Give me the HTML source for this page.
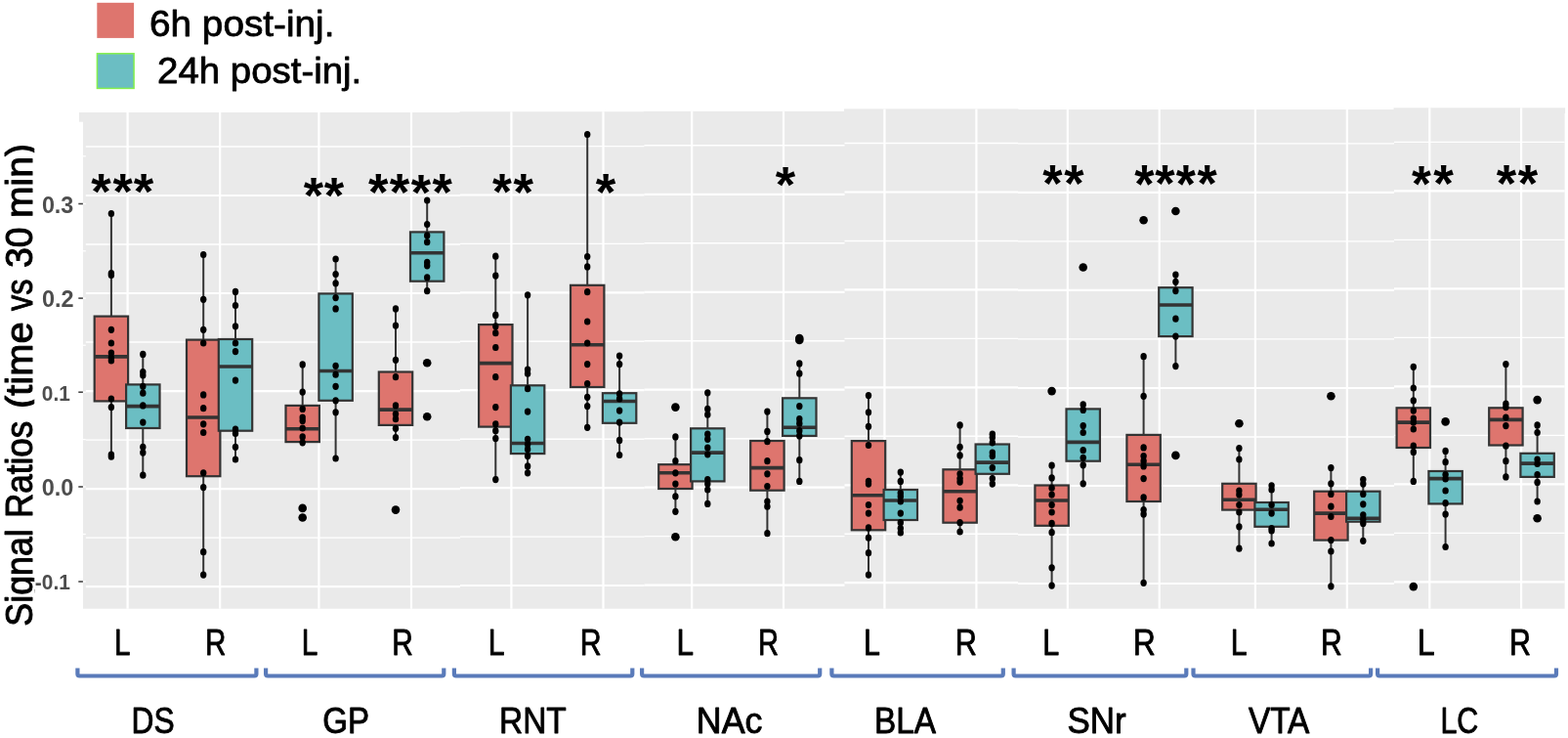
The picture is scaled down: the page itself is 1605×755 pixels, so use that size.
<!DOCTYPE html><html><head><meta charset="utf-8"><style>html,body{margin:0;padding:0;background:#fff;overflow:hidden}svg{display:block}</style></head><body>
<svg width="1605" height="755" viewBox="0 0 1605 755">
<rect width="1605" height="755" fill="#fff"/>
<rect x="85" y="115" width="1516.6" height="507.7" fill="#EAEAEA"/>
<rect x="470.5" y="114.2" width="189.5" height="1.8" fill="#EAEAEA"/>
<rect x="659.0" y="113.8" width="206.0" height="2.2" fill="#EAEAEA"/>
<rect x="864.0" y="111.4" width="178.5" height="4.6" fill="#EAEAEA"/>
<rect x="1041.5" y="112.0" width="386.0" height="4.0" fill="#EAEAEA"/>
<rect x="1426.5" y="110.3" width="175.6" height="5.7" fill="#EAEAEA"/>
<rect x="81" y="115" width="5" height="9.7" fill="#EAEAEA"/>
<line x1="85" x2="87.8" y1="159.8" y2="159.8" stroke="#fff" stroke-width="1.3"/>
<line x1="85" x2="87.8" y1="208.5" y2="208.5" stroke="#fff" stroke-width="1.3"/>
<line x1="85" x2="87.8" y1="256.8" y2="256.8" stroke="#fff" stroke-width="1.3"/>
<line x1="85" x2="87.8" y1="305.1" y2="305.1" stroke="#fff" stroke-width="1.3"/>
<line x1="85" x2="87.8" y1="353.2" y2="353.2" stroke="#fff" stroke-width="1.3"/>
<line x1="85" x2="87.8" y1="401.2" y2="401.2" stroke="#fff" stroke-width="1.3"/>
<line x1="85" x2="87.8" y1="449.6" y2="449.6" stroke="#fff" stroke-width="1.3"/>
<line x1="85" x2="87.8" y1="498.0" y2="498.0" stroke="#fff" stroke-width="1.3"/>
<line x1="85" x2="87.8" y1="546.5" y2="546.5" stroke="#fff" stroke-width="1.3"/>
<line x1="85" x2="87.8" y1="595.0" y2="595.0" stroke="#fff" stroke-width="1.3"/>
<line x1="87.8" x2="471.0" y1="150.0" y2="150.0" stroke="#fff" stroke-width="1.4"/>
<line x1="87.8" x2="471.0" y1="200.0" y2="200.0" stroke="#fff" stroke-width="2.2"/>
<line x1="87.8" x2="471.0" y1="250.0" y2="250.0" stroke="#fff" stroke-width="1.4"/>
<line x1="87.8" x2="471.0" y1="300.0" y2="300.0" stroke="#fff" stroke-width="2.2"/>
<line x1="87.8" x2="471.0" y1="350.0" y2="350.0" stroke="#fff" stroke-width="1.4"/>
<line x1="87.8" x2="471.0" y1="400.1" y2="400.1" stroke="#fff" stroke-width="2.2"/>
<line x1="87.8" x2="471.0" y1="450.1" y2="450.1" stroke="#fff" stroke-width="1.4"/>
<line x1="87.8" x2="471.0" y1="500.1" y2="500.1" stroke="#fff" stroke-width="2.2"/>
<line x1="87.8" x2="471.0" y1="550.1" y2="550.1" stroke="#fff" stroke-width="1.4"/>
<line x1="87.8" x2="471.0" y1="600.1" y2="600.1" stroke="#fff" stroke-width="2.2"/>
<line x1="471.0" x2="659.5" y1="149.6" y2="149.6" stroke="#fff" stroke-width="1.4"/>
<line x1="471.0" x2="659.5" y1="199.5" y2="199.5" stroke="#fff" stroke-width="2.2"/>
<line x1="471.0" x2="659.5" y1="249.4" y2="249.4" stroke="#fff" stroke-width="1.4"/>
<line x1="471.0" x2="659.5" y1="299.4" y2="299.4" stroke="#fff" stroke-width="2.2"/>
<line x1="471.0" x2="659.5" y1="349.3" y2="349.3" stroke="#fff" stroke-width="1.4"/>
<line x1="471.0" x2="659.5" y1="399.2" y2="399.2" stroke="#fff" stroke-width="2.2"/>
<line x1="471.0" x2="659.5" y1="449.2" y2="449.2" stroke="#fff" stroke-width="1.4"/>
<line x1="471.0" x2="659.5" y1="499.1" y2="499.1" stroke="#fff" stroke-width="2.2"/>
<line x1="471.0" x2="659.5" y1="549.1" y2="549.1" stroke="#fff" stroke-width="1.4"/>
<line x1="471.0" x2="659.5" y1="599.0" y2="599.0" stroke="#fff" stroke-width="2.2"/>
<line x1="659.5" x2="864.5" y1="148.8" y2="148.8" stroke="#fff" stroke-width="1.4"/>
<line x1="659.5" x2="864.5" y1="198.8" y2="198.8" stroke="#fff" stroke-width="2.2"/>
<line x1="659.5" x2="864.5" y1="248.8" y2="248.8" stroke="#fff" stroke-width="1.4"/>
<line x1="659.5" x2="864.5" y1="298.8" y2="298.8" stroke="#fff" stroke-width="2.2"/>
<line x1="659.5" x2="864.5" y1="348.7" y2="348.7" stroke="#fff" stroke-width="1.4"/>
<line x1="659.5" x2="864.5" y1="398.7" y2="398.7" stroke="#fff" stroke-width="2.2"/>
<line x1="659.5" x2="864.5" y1="448.7" y2="448.7" stroke="#fff" stroke-width="1.4"/>
<line x1="659.5" x2="864.5" y1="498.7" y2="498.7" stroke="#fff" stroke-width="2.2"/>
<line x1="659.5" x2="864.5" y1="548.6" y2="548.6" stroke="#fff" stroke-width="1.4"/>
<line x1="659.5" x2="864.5" y1="598.6" y2="598.6" stroke="#fff" stroke-width="2.2"/>
<line x1="864.5" x2="1042.0" y1="146.5" y2="146.5" stroke="#fff" stroke-width="1.4"/>
<line x1="864.5" x2="1042.0" y1="196.5" y2="196.5" stroke="#fff" stroke-width="2.2"/>
<line x1="864.5" x2="1042.0" y1="246.5" y2="246.5" stroke="#fff" stroke-width="1.4"/>
<line x1="864.5" x2="1042.0" y1="296.4" y2="296.4" stroke="#fff" stroke-width="2.2"/>
<line x1="864.5" x2="1042.0" y1="346.4" y2="346.4" stroke="#fff" stroke-width="1.4"/>
<line x1="864.5" x2="1042.0" y1="396.4" y2="396.4" stroke="#fff" stroke-width="2.2"/>
<line x1="864.5" x2="1042.0" y1="446.3" y2="446.3" stroke="#fff" stroke-width="1.4"/>
<line x1="864.5" x2="1042.0" y1="496.3" y2="496.3" stroke="#fff" stroke-width="2.2"/>
<line x1="864.5" x2="1042.0" y1="546.2" y2="546.2" stroke="#fff" stroke-width="1.4"/>
<line x1="864.5" x2="1042.0" y1="596.2" y2="596.2" stroke="#fff" stroke-width="2.2"/>
<line x1="1042.0" x2="1427.0" y1="146.9" y2="146.9" stroke="#fff" stroke-width="1.4"/>
<line x1="1042.0" x2="1427.0" y1="196.9" y2="196.9" stroke="#fff" stroke-width="2.2"/>
<line x1="1042.0" x2="1427.0" y1="246.9" y2="246.9" stroke="#fff" stroke-width="1.4"/>
<line x1="1042.0" x2="1427.0" y1="296.9" y2="296.9" stroke="#fff" stroke-width="2.2"/>
<line x1="1042.0" x2="1427.0" y1="346.9" y2="346.9" stroke="#fff" stroke-width="1.4"/>
<line x1="1042.0" x2="1427.0" y1="397.0" y2="397.0" stroke="#fff" stroke-width="2.2"/>
<line x1="1042.0" x2="1427.0" y1="447.0" y2="447.0" stroke="#fff" stroke-width="1.4"/>
<line x1="1042.0" x2="1427.0" y1="497.0" y2="497.0" stroke="#fff" stroke-width="2.2"/>
<line x1="1042.0" x2="1427.0" y1="547.0" y2="547.0" stroke="#fff" stroke-width="1.4"/>
<line x1="1042.0" x2="1427.0" y1="597.0" y2="597.0" stroke="#fff" stroke-width="2.2"/>
<line x1="1427.0" x2="1601.6" y1="145.4" y2="145.4" stroke="#fff" stroke-width="1.4"/>
<line x1="1427.0" x2="1601.6" y1="195.4" y2="195.4" stroke="#fff" stroke-width="2.2"/>
<line x1="1427.0" x2="1601.6" y1="245.4" y2="245.4" stroke="#fff" stroke-width="1.4"/>
<line x1="1427.0" x2="1601.6" y1="295.4" y2="295.4" stroke="#fff" stroke-width="2.2"/>
<line x1="1427.0" x2="1601.6" y1="345.4" y2="345.4" stroke="#fff" stroke-width="1.4"/>
<line x1="1427.0" x2="1601.6" y1="395.4" y2="395.4" stroke="#fff" stroke-width="2.2"/>
<line x1="1427.0" x2="1601.6" y1="445.4" y2="445.4" stroke="#fff" stroke-width="1.4"/>
<line x1="1427.0" x2="1601.6" y1="495.4" y2="495.4" stroke="#fff" stroke-width="2.2"/>
<line x1="1427.0" x2="1601.6" y1="545.4" y2="545.4" stroke="#fff" stroke-width="1.4"/>
<line x1="1427.0" x2="1601.6" y1="595.4" y2="595.4" stroke="#fff" stroke-width="2.2"/>
<line x1="130.6" x2="130.6" y1="115.0" y2="622.7" stroke="#fff" stroke-width="2.2"/>
<line x1="225.2" x2="225.2" y1="115.0" y2="622.7" stroke="#fff" stroke-width="2.2"/>
<line x1="326.4" x2="326.4" y1="115.0" y2="622.7" stroke="#fff" stroke-width="2.2"/>
<line x1="421.0" x2="421.0" y1="115.0" y2="622.7" stroke="#fff" stroke-width="2.2"/>
<line x1="523.4" x2="523.4" y1="114.2" y2="622.7" stroke="#fff" stroke-width="2.2"/>
<line x1="617.5" x2="617.5" y1="114.2" y2="622.7" stroke="#fff" stroke-width="2.2"/>
<line x1="708.2" x2="708.2" y1="113.8" y2="622.7" stroke="#fff" stroke-width="2.2"/>
<line x1="802.0" x2="802.0" y1="113.8" y2="622.7" stroke="#fff" stroke-width="2.2"/>
<line x1="905.4" x2="905.4" y1="111.4" y2="622.7" stroke="#fff" stroke-width="2.2"/>
<line x1="999.4" x2="999.4" y1="111.4" y2="622.7" stroke="#fff" stroke-width="2.2"/>
<line x1="1092.8" x2="1092.8" y1="112.0" y2="622.7" stroke="#fff" stroke-width="2.2"/>
<line x1="1186.7" x2="1186.7" y1="112.0" y2="622.7" stroke="#fff" stroke-width="2.2"/>
<line x1="1284.9" x2="1284.9" y1="112.0" y2="622.7" stroke="#fff" stroke-width="2.2"/>
<line x1="1378.8" x2="1378.8" y1="112.0" y2="622.7" stroke="#fff" stroke-width="2.2"/>
<line x1="1463.3" x2="1463.3" y1="110.3" y2="622.7" stroke="#fff" stroke-width="2.2"/>
<line x1="1557.1" x2="1557.1" y1="110.3" y2="622.7" stroke="#fff" stroke-width="2.2"/>
<line x1="113.9" x2="113.9" y1="218.5" y2="323.6" stroke="#333333" stroke-width="2"/><line x1="113.9" x2="113.9" y1="410.4" y2="467.2" stroke="#333333" stroke-width="2"/><rect x="96.7" y="323.6" width="34.4" height="86.8" fill="#DE756E" stroke="#333333" stroke-width="2.2"/><line x1="96.7" x2="131.1" y1="364.9" y2="364.9" stroke="#333333" stroke-width="3.6"/>
<line x1="146.3" x2="146.3" y1="362.4" y2="393.4" stroke="#333333" stroke-width="2"/><line x1="146.3" x2="146.3" y1="438.0" y2="486.2" stroke="#333333" stroke-width="2"/><rect x="129.1" y="393.4" width="34.4" height="44.6" fill="#6BBEC3" stroke="#333333" stroke-width="2.2"/><line x1="129.1" x2="163.5" y1="415.59999999999997" y2="415.59999999999997" stroke="#333333" stroke-width="3.6"/>
<line x1="208.2" x2="208.2" y1="260.5" y2="347.6" stroke="#333333" stroke-width="2"/><line x1="208.2" x2="208.2" y1="487.2" y2="588.1" stroke="#333333" stroke-width="2"/><rect x="191.0" y="347.6" width="34.4" height="139.6" fill="#DE756E" stroke="#333333" stroke-width="2.2"/><line x1="191.0" x2="225.4" y1="427.0" y2="427.0" stroke="#333333" stroke-width="3.6"/>
<line x1="241.0" x2="241.0" y1="298.4" y2="347.0" stroke="#333333" stroke-width="2"/><line x1="241.0" x2="241.0" y1="440.7" y2="470.0" stroke="#333333" stroke-width="2"/><rect x="223.8" y="347.0" width="34.4" height="93.7" fill="#6BBEC3" stroke="#333333" stroke-width="2.2"/><line x1="223.8" x2="258.2" y1="375.0" y2="375.0" stroke="#333333" stroke-width="3.6"/>
<line x1="309.7" x2="309.7" y1="372.9" y2="414.9" stroke="#333333" stroke-width="2"/><line x1="309.7" x2="309.7" y1="452.1" y2="452.8" stroke="#333333" stroke-width="2"/><rect x="292.5" y="414.9" width="34.4" height="37.2" fill="#DE756E" stroke="#333333" stroke-width="2.2"/><line x1="292.5" x2="326.9" y1="438.7" y2="438.7" stroke="#333333" stroke-width="3.6"/>
<line x1="343.6" x2="343.6" y1="265.0" y2="300.4" stroke="#333333" stroke-width="2"/><line x1="343.6" x2="343.6" y1="409.8" y2="469.0" stroke="#333333" stroke-width="2"/><rect x="326.4" y="300.4" width="34.4" height="109.4" fill="#6BBEC3" stroke="#333333" stroke-width="2.2"/><line x1="326.4" x2="360.8" y1="379.5" y2="379.5" stroke="#333333" stroke-width="3.6"/>
<line x1="405.0" x2="405.0" y1="315.9" y2="380.5" stroke="#333333" stroke-width="2"/><line x1="405.0" x2="405.0" y1="434.9" y2="447.6" stroke="#333333" stroke-width="2"/><rect x="387.8" y="380.5" width="34.4" height="54.4" fill="#DE756E" stroke="#333333" stroke-width="2.2"/><line x1="387.8" x2="422.2" y1="419.09999999999997" y2="419.09999999999997" stroke="#333333" stroke-width="3.6"/>
<line x1="437.2" x2="437.2" y1="205.0" y2="237.4" stroke="#333333" stroke-width="2"/><line x1="437.2" x2="437.2" y1="287.7" y2="297.7" stroke="#333333" stroke-width="2"/><rect x="420.0" y="237.4" width="34.4" height="50.3" fill="#6BBEC3" stroke="#333333" stroke-width="2.2"/><line x1="420.0" x2="454.4" y1="258.8" y2="258.8" stroke="#333333" stroke-width="3.6"/>
<line x1="507.3" x2="507.3" y1="262.2" y2="332.1" stroke="#333333" stroke-width="2"/><line x1="507.3" x2="507.3" y1="436.6" y2="490.6" stroke="#333333" stroke-width="2"/><rect x="490.1" y="332.1" width="34.4" height="104.5" fill="#DE756E" stroke="#333333" stroke-width="2.2"/><line x1="490.1" x2="524.5" y1="371.59999999999997" y2="371.59999999999997" stroke="#333333" stroke-width="3.6"/>
<line x1="540.1" x2="540.1" y1="301.8" y2="394.3" stroke="#333333" stroke-width="2"/><line x1="540.1" x2="540.1" y1="464.1" y2="483.8" stroke="#333333" stroke-width="2"/><rect x="522.9" y="394.3" width="34.4" height="69.8" fill="#6BBEC3" stroke="#333333" stroke-width="2.2"/><line x1="522.9" x2="557.3" y1="453.5" y2="453.5" stroke="#333333" stroke-width="3.6"/>
<line x1="601.2" x2="601.2" y1="137.5" y2="291.8" stroke="#333333" stroke-width="2"/><line x1="601.2" x2="601.2" y1="396.0" y2="437.3" stroke="#333333" stroke-width="2"/><rect x="584.0" y="291.8" width="34.4" height="104.2" fill="#DE756E" stroke="#333333" stroke-width="2.2"/><line x1="584.0" x2="618.4" y1="352.8" y2="352.8" stroke="#333333" stroke-width="3.6"/>
<line x1="634.1" x2="634.1" y1="364.1" y2="402.2" stroke="#333333" stroke-width="2"/><line x1="634.1" x2="634.1" y1="432.8" y2="465.5" stroke="#333333" stroke-width="2"/><rect x="616.9" y="402.2" width="34.4" height="30.6" fill="#6BBEC3" stroke="#333333" stroke-width="2.2"/><line x1="616.9" x2="651.3" y1="410.5" y2="410.5" stroke="#333333" stroke-width="3.6"/>
<line x1="691.4" x2="691.4" y1="446.9" y2="475.2" stroke="#333333" stroke-width="2"/><line x1="691.4" x2="691.4" y1="500.0" y2="523.3" stroke="#333333" stroke-width="2"/><rect x="674.2" y="475.2" width="34.4" height="24.8" fill="#DE756E" stroke="#333333" stroke-width="2.2"/><line x1="674.2" x2="708.6" y1="483.8" y2="483.8" stroke="#333333" stroke-width="3.6"/>
<line x1="724.3" x2="724.3" y1="401.8" y2="438.3" stroke="#333333" stroke-width="2"/><line x1="724.3" x2="724.3" y1="492.4" y2="515.4" stroke="#333333" stroke-width="2"/><rect x="707.1" y="438.3" width="34.4" height="54.1" fill="#6BBEC3" stroke="#333333" stroke-width="2.2"/><line x1="707.1" x2="741.5" y1="463.09999999999997" y2="463.09999999999997" stroke="#333333" stroke-width="3.6"/>
<line x1="785.4" x2="785.4" y1="421.1" y2="451.0" stroke="#333333" stroke-width="2"/><line x1="785.4" x2="785.4" y1="501.7" y2="545.7" stroke="#333333" stroke-width="2"/><rect x="768.2" y="451.0" width="34.4" height="50.7" fill="#DE756E" stroke="#333333" stroke-width="2.2"/><line x1="768.2" x2="802.6" y1="478.59999999999997" y2="478.59999999999997" stroke="#333333" stroke-width="3.6"/>
<line x1="818.3" x2="818.3" y1="371.9" y2="407.3" stroke="#333333" stroke-width="2"/><line x1="818.3" x2="818.3" y1="445.9" y2="492.4" stroke="#333333" stroke-width="2"/><rect x="801.1" y="407.3" width="34.4" height="38.6" fill="#6BBEC3" stroke="#333333" stroke-width="2.2"/><line x1="801.1" x2="835.5" y1="437.3" y2="437.3" stroke="#333333" stroke-width="3.6"/>
<line x1="889.0" x2="889.0" y1="404.6" y2="451.1" stroke="#333333" stroke-width="2"/><line x1="889.0" x2="889.0" y1="542.3" y2="588.1" stroke="#333333" stroke-width="2"/><rect x="871.8" y="451.1" width="34.4" height="91.2" fill="#DE756E" stroke="#333333" stroke-width="2.2"/><line x1="871.8" x2="906.2" y1="506.8" y2="506.8" stroke="#333333" stroke-width="3.6"/>
<line x1="921.8" x2="921.8" y1="483.1" y2="501.0" stroke="#333333" stroke-width="2"/><line x1="921.8" x2="921.8" y1="532.0" y2="545.0" stroke="#333333" stroke-width="2"/><rect x="904.6" y="501.0" width="34.4" height="31.0" fill="#6BBEC3" stroke="#333333" stroke-width="2.2"/><line x1="904.6" x2="939.0" y1="512.0" y2="512.0" stroke="#333333" stroke-width="3.6"/>
<line x1="982.6" x2="982.6" y1="434.9" y2="480.3" stroke="#333333" stroke-width="2"/><line x1="982.6" x2="982.6" y1="534.7" y2="544.0" stroke="#333333" stroke-width="2"/><rect x="965.4" y="480.3" width="34.4" height="54.4" fill="#DE756E" stroke="#333333" stroke-width="2.2"/><line x1="965.4" x2="999.8" y1="502.7" y2="502.7" stroke="#333333" stroke-width="3.6"/>
<line x1="1015.8" x2="1015.8" y1="444.2" y2="454.5" stroke="#333333" stroke-width="2"/><line x1="1015.8" x2="1015.8" y1="484.8" y2="495.8" stroke="#333333" stroke-width="2"/><rect x="998.6" y="454.5" width="34.4" height="30.3" fill="#6BBEC3" stroke="#333333" stroke-width="2.2"/><line x1="998.6" x2="1033.0" y1="473.09999999999997" y2="473.09999999999997" stroke="#333333" stroke-width="3.6"/>
<line x1="1076.6" x2="1076.6" y1="476.2" y2="496.5" stroke="#333333" stroke-width="2"/><line x1="1076.6" x2="1076.6" y1="537.8" y2="599.1" stroke="#333333" stroke-width="2"/><rect x="1059.4" y="496.5" width="34.4" height="41.3" fill="#DE756E" stroke="#333333" stroke-width="2.2"/><line x1="1059.4" x2="1093.8" y1="512.0" y2="512.0" stroke="#333333" stroke-width="3.6"/>
<line x1="1108.7" x2="1108.7" y1="413.9" y2="418.4" stroke="#333333" stroke-width="2"/><line x1="1108.7" x2="1108.7" y1="471.7" y2="494.8" stroke="#333333" stroke-width="2"/><rect x="1091.5" y="418.4" width="34.4" height="53.3" fill="#6BBEC3" stroke="#333333" stroke-width="2.2"/><line x1="1091.5" x2="1125.9" y1="452.4" y2="452.4" stroke="#333333" stroke-width="3.6"/>
<line x1="1170.6" x2="1170.6" y1="364.7" y2="444.9" stroke="#333333" stroke-width="2"/><line x1="1170.6" x2="1170.6" y1="513.0" y2="596.3" stroke="#333333" stroke-width="2"/><rect x="1153.4" y="444.9" width="34.4" height="68.1" fill="#DE756E" stroke="#333333" stroke-width="2.2"/><line x1="1153.4" x2="1187.8" y1="475.2" y2="475.2" stroke="#333333" stroke-width="3.6"/>
<line x1="1203.4" x2="1203.4" y1="281.1" y2="294.2" stroke="#333333" stroke-width="2"/><line x1="1203.4" x2="1203.4" y1="344.1" y2="374.6" stroke="#333333" stroke-width="2"/><rect x="1186.2" y="294.2" width="34.4" height="49.9" fill="#6BBEC3" stroke="#333333" stroke-width="2.2"/><line x1="1186.2" x2="1220.6" y1="312.0" y2="312.0" stroke="#333333" stroke-width="3.6"/>
<line x1="1268.4" x2="1268.4" y1="458.6" y2="494.8" stroke="#333333" stroke-width="2"/><line x1="1268.4" x2="1268.4" y1="521.6" y2="561.2" stroke="#333333" stroke-width="2"/><rect x="1251.2" y="494.8" width="34.4" height="26.8" fill="#DE756E" stroke="#333333" stroke-width="2.2"/><line x1="1251.2" x2="1285.6" y1="511.3" y2="511.3" stroke="#333333" stroke-width="3.6"/>
<line x1="1301.6" x2="1301.6" y1="496.8" y2="514.0" stroke="#333333" stroke-width="2"/><line x1="1301.6" x2="1301.6" y1="538.8" y2="556.0" stroke="#333333" stroke-width="2"/><rect x="1284.4" y="514.0" width="34.4" height="24.8" fill="#6BBEC3" stroke="#333333" stroke-width="2.2"/><line x1="1284.4" x2="1318.8" y1="521.3000000000001" y2="521.3000000000001" stroke="#333333" stroke-width="3.6"/>
<line x1="1362.4" x2="1362.4" y1="478.6" y2="502.7" stroke="#333333" stroke-width="2"/><line x1="1362.4" x2="1362.4" y1="552.6" y2="599.8" stroke="#333333" stroke-width="2"/><rect x="1345.2" y="502.7" width="34.4" height="49.9" fill="#DE756E" stroke="#333333" stroke-width="2.2"/><line x1="1345.2" x2="1379.6" y1="525.1" y2="525.1" stroke="#333333" stroke-width="3.6"/>
<line x1="1395.3" x2="1395.3" y1="490.6" y2="502.7" stroke="#333333" stroke-width="2"/><line x1="1395.3" x2="1395.3" y1="533.7" y2="553.3" stroke="#333333" stroke-width="2"/><rect x="1378.1" y="502.7" width="34.4" height="31.0" fill="#6BBEC3" stroke="#333333" stroke-width="2.2"/><line x1="1378.1" x2="1412.5" y1="530.2" y2="530.2" stroke="#333333" stroke-width="3.6"/>
<line x1="1446.8" x2="1446.8" y1="375.3" y2="417.3" stroke="#333333" stroke-width="2"/><line x1="1446.8" x2="1446.8" y1="458.0" y2="492.4" stroke="#333333" stroke-width="2"/><rect x="1429.6" y="417.3" width="34.4" height="40.7" fill="#DE756E" stroke="#333333" stroke-width="2.2"/><line x1="1429.6" x2="1464.0" y1="432.09999999999997" y2="432.09999999999997" stroke="#333333" stroke-width="3.6"/>
<line x1="1479.6" x2="1479.6" y1="461.4" y2="482.0" stroke="#333333" stroke-width="2"/><line x1="1479.6" x2="1479.6" y1="515.4" y2="559.5" stroke="#333333" stroke-width="2"/><rect x="1462.4" y="482.0" width="34.4" height="33.4" fill="#6BBEC3" stroke="#333333" stroke-width="2.2"/><line x1="1462.4" x2="1496.8" y1="489.59999999999997" y2="489.59999999999997" stroke="#333333" stroke-width="3.6"/>
<line x1="1541.4" x2="1541.4" y1="372.6" y2="417.3" stroke="#333333" stroke-width="2"/><line x1="1541.4" x2="1541.4" y1="455.5" y2="487.9" stroke="#333333" stroke-width="2"/><rect x="1524.2" y="417.3" width="34.4" height="38.2" fill="#DE756E" stroke="#333333" stroke-width="2.2"/><line x1="1524.2" x2="1558.6" y1="429.4" y2="429.4" stroke="#333333" stroke-width="3.6"/>
<line x1="1573.6" x2="1573.6" y1="434.9" y2="463.8" stroke="#333333" stroke-width="2"/><line x1="1573.6" x2="1573.6" y1="487.9" y2="513.0" stroke="#333333" stroke-width="2"/><rect x="1556.4" y="463.8" width="34.4" height="24.1" fill="#6BBEC3" stroke="#333333" stroke-width="2.2"/><line x1="1556.4" x2="1590.8" y1="474.09999999999997" y2="474.09999999999997" stroke="#333333" stroke-width="3.6"/>
<ellipse cx="113.90" cy="218.5" rx="3.2" ry="3.6"/>
<ellipse cx="113.90" cy="279.5" rx="3.2" ry="3.6"/>
<ellipse cx="113.90" cy="281.5" rx="3.2" ry="3.6"/>
<ellipse cx="113.90" cy="337.3" rx="3.2" ry="3.6"/>
<ellipse cx="113.90" cy="351" rx="3.2" ry="3.6"/>
<ellipse cx="113.90" cy="361" rx="3.2" ry="3.6"/>
<ellipse cx="113.90" cy="366" rx="3.2" ry="3.6"/>
<ellipse cx="113.90" cy="369" rx="3.2" ry="3.6"/>
<ellipse cx="113.90" cy="408" rx="3.2" ry="3.6"/>
<ellipse cx="113.90" cy="416.6" rx="3.2" ry="3.6"/>
<ellipse cx="113.90" cy="465" rx="3.2" ry="3.6"/>
<ellipse cx="113.90" cy="467.2" rx="3.2" ry="3.6"/>
<ellipse cx="146.30" cy="362.4" rx="3.2" ry="3.6"/>
<ellipse cx="146.30" cy="380.5" rx="3.2" ry="3.6"/>
<ellipse cx="146.30" cy="384" rx="3.2" ry="3.6"/>
<ellipse cx="146.30" cy="395.3" rx="3.2" ry="3.6"/>
<ellipse cx="146.30" cy="402.2" rx="3.2" ry="3.6"/>
<ellipse cx="146.30" cy="414.9" rx="3.2" ry="3.6"/>
<ellipse cx="146.30" cy="432.1" rx="3.2" ry="3.6"/>
<ellipse cx="146.30" cy="457.3" rx="3.2" ry="3.6"/>
<ellipse cx="146.30" cy="463.1" rx="3.2" ry="3.6"/>
<ellipse cx="146.30" cy="486.2" rx="3.2" ry="3.6"/>
<ellipse cx="208.20" cy="260.5" rx="3.2" ry="3.6"/>
<ellipse cx="208.20" cy="306.3" rx="3.2" ry="3.6"/>
<ellipse cx="208.20" cy="337.3" rx="3.2" ry="3.6"/>
<ellipse cx="208.20" cy="351" rx="3.2" ry="3.6"/>
<ellipse cx="208.20" cy="403.9" rx="3.2" ry="3.6"/>
<ellipse cx="208.20" cy="417.7" rx="3.2" ry="3.6"/>
<ellipse cx="208.20" cy="433.8" rx="3.2" ry="3.6"/>
<ellipse cx="208.20" cy="442.5" rx="3.2" ry="3.6"/>
<ellipse cx="208.20" cy="483.8" rx="3.2" ry="3.6"/>
<ellipse cx="208.20" cy="498.6" rx="3.2" ry="3.6"/>
<ellipse cx="208.20" cy="564.7" rx="3.2" ry="3.6"/>
<ellipse cx="208.20" cy="588.1" rx="3.2" ry="3.6"/>
<ellipse cx="241.00" cy="298.4" rx="3.2" ry="3.6"/>
<ellipse cx="241.00" cy="312.5" rx="3.2" ry="3.6"/>
<ellipse cx="241.00" cy="333.8" rx="3.2" ry="3.6"/>
<ellipse cx="241.00" cy="351" rx="3.2" ry="3.6"/>
<ellipse cx="241.00" cy="359.6" rx="3.2" ry="3.6"/>
<ellipse cx="241.00" cy="389.1" rx="3.2" ry="3.6"/>
<ellipse cx="241.00" cy="439" rx="3.2" ry="3.6"/>
<ellipse cx="241.00" cy="443.5" rx="3.2" ry="3.6"/>
<ellipse cx="241.00" cy="457.3" rx="3.2" ry="3.6"/>
<ellipse cx="241.00" cy="470" rx="3.2" ry="3.6"/>
<ellipse cx="309.70" cy="372.9" rx="3.2" ry="3.6"/>
<ellipse cx="309.70" cy="401.1" rx="3.2" ry="3.6"/>
<ellipse cx="309.70" cy="418.4" rx="3.2" ry="3.6"/>
<ellipse cx="309.70" cy="427" rx="3.2" ry="3.6"/>
<ellipse cx="309.70" cy="430.4" rx="3.2" ry="3.6"/>
<ellipse cx="309.70" cy="438" rx="3.2" ry="3.6"/>
<ellipse cx="309.70" cy="446.9" rx="3.2" ry="3.6"/>
<ellipse cx="309.70" cy="452.8" rx="3.2" ry="3.6"/>
<circle cx="309.70" cy="519.9" r="4.3"/>
<circle cx="309.70" cy="529.5" r="4.3"/>
<ellipse cx="343.60" cy="265" rx="3.2" ry="3.6"/>
<ellipse cx="343.60" cy="280.5" rx="3.2" ry="3.6"/>
<ellipse cx="343.60" cy="289.8" rx="3.2" ry="3.6"/>
<ellipse cx="343.60" cy="304.6" rx="3.2" ry="3.6"/>
<ellipse cx="343.60" cy="315.9" rx="3.2" ry="3.6"/>
<ellipse cx="343.60" cy="374.3" rx="3.2" ry="3.6"/>
<ellipse cx="343.60" cy="383.2" rx="3.2" ry="3.6"/>
<ellipse cx="343.60" cy="395.3" rx="3.2" ry="3.6"/>
<ellipse cx="343.60" cy="409.8" rx="3.2" ry="3.6"/>
<ellipse cx="343.60" cy="421.8" rx="3.2" ry="3.6"/>
<ellipse cx="343.60" cy="469" rx="3.2" ry="3.6"/>
<ellipse cx="405.00" cy="315.9" rx="3.2" ry="3.6"/>
<ellipse cx="405.00" cy="333.1" rx="3.2" ry="3.6"/>
<ellipse cx="405.00" cy="368.3" rx="3.2" ry="3.6"/>
<ellipse cx="405.00" cy="385.7" rx="3.2" ry="3.6"/>
<ellipse cx="405.00" cy="414.9" rx="3.2" ry="3.6"/>
<ellipse cx="405.00" cy="423.5" rx="3.2" ry="3.6"/>
<ellipse cx="405.00" cy="428.7" rx="3.2" ry="3.6"/>
<ellipse cx="405.00" cy="438.3" rx="3.2" ry="3.6"/>
<ellipse cx="405.00" cy="447.6" rx="3.2" ry="3.6"/>
<circle cx="405.00" cy="521.6" r="4.3"/>
<ellipse cx="437.20" cy="205" rx="3.2" ry="3.6"/>
<ellipse cx="437.20" cy="229.5" rx="3.2" ry="3.6"/>
<ellipse cx="437.20" cy="240.9" rx="3.2" ry="3.6"/>
<ellipse cx="437.20" cy="247.7" rx="3.2" ry="3.6"/>
<ellipse cx="437.20" cy="268.4" rx="3.2" ry="3.6"/>
<ellipse cx="437.20" cy="271.8" rx="3.2" ry="3.6"/>
<ellipse cx="437.20" cy="283.9" rx="3.2" ry="3.6"/>
<ellipse cx="437.20" cy="297.7" rx="3.2" ry="3.6"/>
<circle cx="437.20" cy="371.2" r="4.3"/>
<circle cx="437.20" cy="426.3" r="4.3"/>
<ellipse cx="507.30" cy="262.2" rx="3.2" ry="3.6"/>
<ellipse cx="507.30" cy="282.1" rx="3.2" ry="3.6"/>
<ellipse cx="507.30" cy="322.4" rx="3.2" ry="3.6"/>
<ellipse cx="507.30" cy="333.8" rx="3.2" ry="3.6"/>
<ellipse cx="507.30" cy="340.7" rx="3.2" ry="3.6"/>
<ellipse cx="507.30" cy="355.5" rx="3.2" ry="3.6"/>
<ellipse cx="507.30" cy="385.7" rx="3.2" ry="3.6"/>
<ellipse cx="507.30" cy="416.6" rx="3.2" ry="3.6"/>
<ellipse cx="507.30" cy="433.8" rx="3.2" ry="3.6"/>
<ellipse cx="507.30" cy="440.7" rx="3.2" ry="3.6"/>
<ellipse cx="507.30" cy="448.6" rx="3.2" ry="3.6"/>
<ellipse cx="507.30" cy="490.6" rx="3.2" ry="3.6"/>
<ellipse cx="540.10" cy="301.8" rx="3.2" ry="3.6"/>
<ellipse cx="540.10" cy="378.1" rx="3.2" ry="3.6"/>
<ellipse cx="540.10" cy="382.2" rx="3.2" ry="3.6"/>
<ellipse cx="540.10" cy="397.7" rx="3.2" ry="3.6"/>
<ellipse cx="540.10" cy="421.1" rx="3.2" ry="3.6"/>
<ellipse cx="540.10" cy="449.3" rx="3.2" ry="3.6"/>
<ellipse cx="540.10" cy="454.5" rx="3.2" ry="3.6"/>
<ellipse cx="540.10" cy="459.7" rx="3.2" ry="3.6"/>
<ellipse cx="540.10" cy="466.6" rx="3.2" ry="3.6"/>
<ellipse cx="540.10" cy="476.9" rx="3.2" ry="3.6"/>
<ellipse cx="540.10" cy="483.8" rx="3.2" ry="3.6"/>
<ellipse cx="601.20" cy="137.5" rx="3.2" ry="3.6"/>
<ellipse cx="601.20" cy="262.5" rx="3.2" ry="3.6"/>
<ellipse cx="601.20" cy="272.9" rx="3.2" ry="3.6"/>
<ellipse cx="601.20" cy="298.7" rx="3.2" ry="3.6"/>
<ellipse cx="601.20" cy="329" rx="3.2" ry="3.6"/>
<ellipse cx="601.20" cy="351" rx="3.2" ry="3.6"/>
<ellipse cx="601.20" cy="372.6" rx="3.2" ry="3.6"/>
<ellipse cx="601.20" cy="392.5" rx="3.2" ry="3.6"/>
<ellipse cx="601.20" cy="406.3" rx="3.2" ry="3.6"/>
<ellipse cx="601.20" cy="415.6" rx="3.2" ry="3.6"/>
<ellipse cx="601.20" cy="437.3" rx="3.2" ry="3.6"/>
<ellipse cx="634.10" cy="364.1" rx="3.2" ry="3.6"/>
<ellipse cx="634.10" cy="372.6" rx="3.2" ry="3.6"/>
<ellipse cx="634.10" cy="402.9" rx="3.2" ry="3.6"/>
<ellipse cx="634.10" cy="408" rx="3.2" ry="3.6"/>
<ellipse cx="634.10" cy="420.1" rx="3.2" ry="3.6"/>
<ellipse cx="634.10" cy="432.1" rx="3.2" ry="3.6"/>
<ellipse cx="634.10" cy="450.4" rx="3.2" ry="3.6"/>
<ellipse cx="634.10" cy="465.5" rx="3.2" ry="3.6"/>
<ellipse cx="691.40" cy="446.9" rx="3.2" ry="3.6"/>
<ellipse cx="691.40" cy="471.7" rx="3.2" ry="3.6"/>
<ellipse cx="691.40" cy="483.8" rx="3.2" ry="3.6"/>
<ellipse cx="691.40" cy="495.1" rx="3.2" ry="3.6"/>
<ellipse cx="691.40" cy="507.9" rx="3.2" ry="3.6"/>
<ellipse cx="691.40" cy="523.3" rx="3.2" ry="3.6"/>
<circle cx="691.40" cy="416.6" r="4.3"/>
<circle cx="691.40" cy="549.2" r="4.3"/>
<ellipse cx="724.30" cy="401.8" rx="3.2" ry="3.6"/>
<ellipse cx="724.30" cy="418.4" rx="3.2" ry="3.6"/>
<ellipse cx="724.30" cy="424.2" rx="3.2" ry="3.6"/>
<ellipse cx="724.30" cy="444.2" rx="3.2" ry="3.6"/>
<ellipse cx="724.30" cy="449.3" rx="3.2" ry="3.6"/>
<ellipse cx="724.30" cy="458" rx="3.2" ry="3.6"/>
<ellipse cx="724.30" cy="464.8" rx="3.2" ry="3.6"/>
<ellipse cx="724.30" cy="490.6" rx="3.2" ry="3.6"/>
<ellipse cx="724.30" cy="495.1" rx="3.2" ry="3.6"/>
<ellipse cx="724.30" cy="501" rx="3.2" ry="3.6"/>
<ellipse cx="724.30" cy="515.4" rx="3.2" ry="3.6"/>
<ellipse cx="785.40" cy="421.1" rx="3.2" ry="3.6"/>
<ellipse cx="785.40" cy="441.4" rx="3.2" ry="3.6"/>
<ellipse cx="785.40" cy="451.7" rx="3.2" ry="3.6"/>
<ellipse cx="785.40" cy="471.7" rx="3.2" ry="3.6"/>
<ellipse cx="785.40" cy="484.8" rx="3.2" ry="3.6"/>
<ellipse cx="785.40" cy="497.5" rx="3.2" ry="3.6"/>
<ellipse cx="785.40" cy="513" rx="3.2" ry="3.6"/>
<ellipse cx="785.40" cy="518.2" rx="3.2" ry="3.6"/>
<ellipse cx="785.40" cy="545.7" rx="3.2" ry="3.6"/>
<ellipse cx="818.30" cy="371.9" rx="3.2" ry="3.6"/>
<ellipse cx="818.30" cy="382.2" rx="3.2" ry="3.6"/>
<ellipse cx="818.30" cy="415.6" rx="3.2" ry="3.6"/>
<ellipse cx="818.30" cy="428.7" rx="3.2" ry="3.6"/>
<ellipse cx="818.30" cy="433.2" rx="3.2" ry="3.6"/>
<ellipse cx="818.30" cy="440.7" rx="3.2" ry="3.6"/>
<ellipse cx="818.30" cy="445.9" rx="3.2" ry="3.6"/>
<ellipse cx="818.30" cy="470.7" rx="3.2" ry="3.6"/>
<ellipse cx="818.30" cy="492.4" rx="3.2" ry="3.6"/>
<circle cx="818.30" cy="346.0" r="4.3"/>
<circle cx="818.30" cy="348.0" r="4.3"/>
<ellipse cx="889.00" cy="404.6" rx="3.2" ry="3.6"/>
<ellipse cx="889.00" cy="421.8" rx="3.2" ry="3.6"/>
<ellipse cx="889.00" cy="436.3" rx="3.2" ry="3.6"/>
<ellipse cx="889.00" cy="455.5" rx="3.2" ry="3.6"/>
<ellipse cx="889.00" cy="492.4" rx="3.2" ry="3.6"/>
<ellipse cx="889.00" cy="495.1" rx="3.2" ry="3.6"/>
<ellipse cx="889.00" cy="516.5" rx="3.2" ry="3.6"/>
<ellipse cx="889.00" cy="525.1" rx="3.2" ry="3.6"/>
<ellipse cx="889.00" cy="539.9" rx="3.2" ry="3.6"/>
<ellipse cx="889.00" cy="550.2" rx="3.2" ry="3.6"/>
<ellipse cx="889.00" cy="565.7" rx="3.2" ry="3.6"/>
<ellipse cx="889.00" cy="588.1" rx="3.2" ry="3.6"/>
<ellipse cx="921.80" cy="483.1" rx="3.2" ry="3.6"/>
<ellipse cx="921.80" cy="492.4" rx="3.2" ry="3.6"/>
<ellipse cx="921.80" cy="504.4" rx="3.2" ry="3.6"/>
<ellipse cx="921.80" cy="507.9" rx="3.2" ry="3.6"/>
<ellipse cx="921.80" cy="513" rx="3.2" ry="3.6"/>
<ellipse cx="921.80" cy="525.1" rx="3.2" ry="3.6"/>
<ellipse cx="921.80" cy="534.7" rx="3.2" ry="3.6"/>
<ellipse cx="921.80" cy="540.6" rx="3.2" ry="3.6"/>
<ellipse cx="921.80" cy="545" rx="3.2" ry="3.6"/>
<ellipse cx="982.60" cy="434.9" rx="3.2" ry="3.6"/>
<ellipse cx="982.60" cy="457.3" rx="3.2" ry="3.6"/>
<ellipse cx="982.60" cy="465.9" rx="3.2" ry="3.6"/>
<ellipse cx="982.60" cy="484.8" rx="3.2" ry="3.6"/>
<ellipse cx="982.60" cy="489.6" rx="3.2" ry="3.6"/>
<ellipse cx="982.60" cy="493.1" rx="3.2" ry="3.6"/>
<ellipse cx="982.60" cy="512.3" rx="3.2" ry="3.6"/>
<ellipse cx="982.60" cy="519.2" rx="3.2" ry="3.6"/>
<ellipse cx="982.60" cy="534.7" rx="3.2" ry="3.6"/>
<ellipse cx="982.60" cy="544" rx="3.2" ry="3.6"/>
<ellipse cx="1015.80" cy="444.2" rx="3.2" ry="3.6"/>
<ellipse cx="1015.80" cy="447.6" rx="3.2" ry="3.6"/>
<ellipse cx="1015.80" cy="452.8" rx="3.2" ry="3.6"/>
<ellipse cx="1015.80" cy="463.1" rx="3.2" ry="3.6"/>
<ellipse cx="1015.80" cy="466.6" rx="3.2" ry="3.6"/>
<ellipse cx="1015.80" cy="478.6" rx="3.2" ry="3.6"/>
<ellipse cx="1015.80" cy="489.6" rx="3.2" ry="3.6"/>
<ellipse cx="1015.80" cy="495.1" rx="3.2" ry="3.6"/>
<ellipse cx="1076.60" cy="476.2" rx="3.2" ry="3.6"/>
<ellipse cx="1076.60" cy="488.9" rx="3.2" ry="3.6"/>
<ellipse cx="1076.60" cy="499.2" rx="3.2" ry="3.6"/>
<ellipse cx="1076.60" cy="506.1" rx="3.2" ry="3.6"/>
<ellipse cx="1076.60" cy="516.5" rx="3.2" ry="3.6"/>
<ellipse cx="1076.60" cy="524" rx="3.2" ry="3.6"/>
<ellipse cx="1076.60" cy="535.4" rx="3.2" ry="3.6"/>
<ellipse cx="1076.60" cy="544.7" rx="3.2" ry="3.6"/>
<ellipse cx="1076.60" cy="580.8" rx="3.2" ry="3.6"/>
<ellipse cx="1076.60" cy="599.1" rx="3.2" ry="3.6"/>
<circle cx="1076.60" cy="400.1" r="4.3"/>
<ellipse cx="1108.70" cy="413.9" rx="3.2" ry="3.6"/>
<ellipse cx="1108.70" cy="419.4" rx="3.2" ry="3.6"/>
<ellipse cx="1108.70" cy="435.6" rx="3.2" ry="3.6"/>
<ellipse cx="1108.70" cy="442.5" rx="3.2" ry="3.6"/>
<ellipse cx="1108.70" cy="460.7" rx="3.2" ry="3.6"/>
<ellipse cx="1108.70" cy="468.3" rx="3.2" ry="3.6"/>
<ellipse cx="1108.70" cy="475.8" rx="3.2" ry="3.6"/>
<ellipse cx="1108.70" cy="494.8" rx="3.2" ry="3.6"/>
<circle cx="1108.70" cy="273.5" r="4.3"/>
<ellipse cx="1170.60" cy="364.7" rx="3.2" ry="3.6"/>
<ellipse cx="1170.60" cy="405.3" rx="3.2" ry="3.6"/>
<ellipse cx="1170.60" cy="457.9" rx="3.2" ry="3.6"/>
<ellipse cx="1170.60" cy="466.6" rx="3.2" ry="3.6"/>
<ellipse cx="1170.60" cy="471.7" rx="3.2" ry="3.6"/>
<ellipse cx="1170.60" cy="476.9" rx="3.2" ry="3.6"/>
<ellipse cx="1170.60" cy="489.6" rx="3.2" ry="3.6"/>
<ellipse cx="1170.60" cy="508.9" rx="3.2" ry="3.6"/>
<ellipse cx="1170.60" cy="521.6" rx="3.2" ry="3.6"/>
<ellipse cx="1170.60" cy="526.1" rx="3.2" ry="3.6"/>
<ellipse cx="1170.60" cy="596.3" rx="3.2" ry="3.6"/>
<circle cx="1170.60" cy="225.3" r="4.3"/>
<ellipse cx="1203.40" cy="281.1" rx="3.2" ry="3.6"/>
<ellipse cx="1203.40" cy="288.3" rx="3.2" ry="3.6"/>
<ellipse cx="1203.40" cy="297.6" rx="3.2" ry="3.6"/>
<ellipse cx="1203.40" cy="326.2" rx="3.2" ry="3.6"/>
<ellipse cx="1203.40" cy="344.1" rx="3.2" ry="3.6"/>
<ellipse cx="1203.40" cy="374.6" rx="3.2" ry="3.6"/>
<circle cx="1203.40" cy="216.0" r="4.3"/>
<circle cx="1203.40" cy="465.9" r="4.3"/>
<ellipse cx="1268.40" cy="458.6" rx="3.2" ry="3.6"/>
<ellipse cx="1268.40" cy="470" rx="3.2" ry="3.6"/>
<ellipse cx="1268.40" cy="502" rx="3.2" ry="3.6"/>
<ellipse cx="1268.40" cy="506.1" rx="3.2" ry="3.6"/>
<ellipse cx="1268.40" cy="516.5" rx="3.2" ry="3.6"/>
<ellipse cx="1268.40" cy="524" rx="3.2" ry="3.6"/>
<ellipse cx="1268.40" cy="538.8" rx="3.2" ry="3.6"/>
<ellipse cx="1268.40" cy="561.2" rx="3.2" ry="3.6"/>
<circle cx="1268.40" cy="433.2" r="4.3"/>
<ellipse cx="1301.60" cy="496.8" rx="3.2" ry="3.6"/>
<ellipse cx="1301.60" cy="501" rx="3.2" ry="3.6"/>
<ellipse cx="1301.60" cy="516.5" rx="3.2" ry="3.6"/>
<ellipse cx="1301.60" cy="525.1" rx="3.2" ry="3.6"/>
<ellipse cx="1301.60" cy="540.6" rx="3.2" ry="3.6"/>
<ellipse cx="1301.60" cy="543" rx="3.2" ry="3.6"/>
<ellipse cx="1301.60" cy="556" rx="3.2" ry="3.6"/>
<ellipse cx="1362.40" cy="478.6" rx="3.2" ry="3.6"/>
<ellipse cx="1362.40" cy="494.8" rx="3.2" ry="3.6"/>
<ellipse cx="1362.40" cy="505.4" rx="3.2" ry="3.6"/>
<ellipse cx="1362.40" cy="518.2" rx="3.2" ry="3.6"/>
<ellipse cx="1362.40" cy="528.5" rx="3.2" ry="3.6"/>
<ellipse cx="1362.40" cy="552.6" rx="3.2" ry="3.6"/>
<ellipse cx="1362.40" cy="564" rx="3.2" ry="3.6"/>
<ellipse cx="1362.40" cy="599.8" rx="3.2" ry="3.6"/>
<circle cx="1362.40" cy="405.3" r="4.3"/>
<ellipse cx="1395.30" cy="490.6" rx="3.2" ry="3.6"/>
<ellipse cx="1395.30" cy="495.1" rx="3.2" ry="3.6"/>
<ellipse cx="1395.30" cy="505.4" rx="3.2" ry="3.6"/>
<ellipse cx="1395.30" cy="515.8" rx="3.2" ry="3.6"/>
<ellipse cx="1395.30" cy="526.8" rx="3.2" ry="3.6"/>
<ellipse cx="1395.30" cy="531.3" rx="3.2" ry="3.6"/>
<ellipse cx="1395.30" cy="535.4" rx="3.2" ry="3.6"/>
<ellipse cx="1395.30" cy="553.3" rx="3.2" ry="3.6"/>
<ellipse cx="1446.80" cy="375.3" rx="3.2" ry="3.6"/>
<ellipse cx="1446.80" cy="397" rx="3.2" ry="3.6"/>
<ellipse cx="1446.80" cy="409.8" rx="3.2" ry="3.6"/>
<ellipse cx="1446.80" cy="420.1" rx="3.2" ry="3.6"/>
<ellipse cx="1446.80" cy="428" rx="3.2" ry="3.6"/>
<ellipse cx="1446.80" cy="432.1" rx="3.2" ry="3.6"/>
<ellipse cx="1446.80" cy="439" rx="3.2" ry="3.6"/>
<ellipse cx="1446.80" cy="456.2" rx="3.2" ry="3.6"/>
<ellipse cx="1446.80" cy="462.4" rx="3.2" ry="3.6"/>
<ellipse cx="1446.80" cy="492.4" rx="3.2" ry="3.6"/>
<circle cx="1446.80" cy="600.1" r="4.3"/>
<ellipse cx="1479.60" cy="461.4" rx="3.2" ry="3.6"/>
<ellipse cx="1479.60" cy="472.7" rx="3.2" ry="3.6"/>
<ellipse cx="1479.60" cy="485.5" rx="3.2" ry="3.6"/>
<ellipse cx="1479.60" cy="490" rx="3.2" ry="3.6"/>
<ellipse cx="1479.60" cy="502" rx="3.2" ry="3.6"/>
<ellipse cx="1479.60" cy="514.7" rx="3.2" ry="3.6"/>
<ellipse cx="1479.60" cy="526.1" rx="3.2" ry="3.6"/>
<ellipse cx="1479.60" cy="559.5" rx="3.2" ry="3.6"/>
<circle cx="1479.60" cy="431.4" r="4.3"/>
<ellipse cx="1541.40" cy="372.6" rx="3.2" ry="3.6"/>
<ellipse cx="1541.40" cy="413.2" rx="3.2" ry="3.6"/>
<ellipse cx="1541.40" cy="416.6" rx="3.2" ry="3.6"/>
<ellipse cx="1541.40" cy="427" rx="3.2" ry="3.6"/>
<ellipse cx="1541.40" cy="435.6" rx="3.2" ry="3.6"/>
<ellipse cx="1541.40" cy="456.2" rx="3.2" ry="3.6"/>
<ellipse cx="1541.40" cy="471.7" rx="3.2" ry="3.6"/>
<ellipse cx="1541.40" cy="487.9" rx="3.2" ry="3.6"/>
<ellipse cx="1573.60" cy="434.9" rx="3.2" ry="3.6"/>
<ellipse cx="1573.60" cy="442.5" rx="3.2" ry="3.6"/>
<ellipse cx="1573.60" cy="470" rx="3.2" ry="3.6"/>
<ellipse cx="1573.60" cy="474.5" rx="3.2" ry="3.6"/>
<ellipse cx="1573.60" cy="485.5" rx="3.2" ry="3.6"/>
<ellipse cx="1573.60" cy="493.4" rx="3.2" ry="3.6"/>
<ellipse cx="1573.60" cy="513" rx="3.2" ry="3.6"/>
<circle cx="1573.60" cy="409.1" r="4.3"/>
<circle cx="1573.60" cy="530.2" r="4.3"/>
<line x1="80.3" x2="84.9" y1="208.5" y2="208.5" stroke="#444" stroke-width="1.6"/>
<line x1="80.3" x2="84.9" y1="305.1" y2="305.1" stroke="#444" stroke-width="1.6"/>
<line x1="80.3" x2="84.9" y1="401.2" y2="401.2" stroke="#444" stroke-width="1.6"/>
<line x1="80.3" x2="84.9" y1="498.0" y2="498.0" stroke="#444" stroke-width="1.6"/>
<line x1="80.3" x2="84.9" y1="595.0" y2="595.0" stroke="#444" stroke-width="1.6"/>
<rect x="99.3" y="2.8" width="37.8" height="36.1" fill="#DE756E"/>
<rect x="99.4" y="54.8" width="37.7" height="35.6" fill="#6BBEC3" stroke="#86F04E" stroke-width="1.5"/>
<path d="M79.4 683.4 V689.6 Q79.4 691.5 81.4 691.5 H260.4 Q262.4 691.5 262.4 689.6 V683.4" fill="none" stroke="#5A7BBA" stroke-width="4.2"/>
<path d="M272.1 683.4 V689.6 Q272.1 691.5 274.1 691.5 H452.3 Q454.3 691.5 454.3 689.6 V683.4" fill="none" stroke="#5A7BBA" stroke-width="4.2"/>
<path d="M464.9 683.4 V689.6 Q464.9 691.5 466.9 691.5 H645.3 Q647.3 691.5 647.3 689.6 V683.4" fill="none" stroke="#5A7BBA" stroke-width="4.2"/>
<path d="M657.1 683.4 V689.6 Q657.1 691.5 659.1 691.5 H837.2 Q839.2 691.5 839.2 689.6 V683.4" fill="none" stroke="#5A7BBA" stroke-width="4.2"/>
<path d="M851.4 683.4 V689.6 Q851.4 691.5 853.4 691.5 H1024.8 Q1026.8 691.5 1026.8 689.6 V683.4" fill="none" stroke="#5A7BBA" stroke-width="4.2"/>
<path d="M1037.6 683.4 V689.6 Q1037.6 691.5 1039.6 691.5 H1212.3 Q1214.3 691.5 1214.3 689.6 V683.4" fill="none" stroke="#5A7BBA" stroke-width="4.2"/>
<path d="M1221.5 683.4 V689.6 Q1221.5 691.5 1223.5 691.5 H1401.1 Q1403.1 691.5 1403.1 689.6 V683.4" fill="none" stroke="#5A7BBA" stroke-width="4.2"/>
<path d="M1410.1 683.4 V689.6 Q1410.1 691.5 1412.1 691.5 H1591.0 Q1593.0 691.5 1593.0 689.6 V683.4" fill="none" stroke="#5A7BBA" stroke-width="4.2"/>
<defs><clipPath id="yclip"><rect x="0" y="0" width="35.2" height="755"/></clipPath></defs>
<text x="153.06" y="36.98" font-family="Liberation Sans, Arial, sans-serif" font-size="36.87" font-weight="normal" fill="#000" stroke="#000" stroke-width="0.80" stroke-linejoin="round" textLength="189.36" lengthAdjust="spacingAndGlyphs">6h post-inj.</text>
<text x="161.14" y="84.99" font-family="Liberation Sans, Arial, sans-serif" font-size="36.87" font-weight="normal" fill="#000" stroke="#000" stroke-width="0.80" stroke-linejoin="round" textLength="209.16" lengthAdjust="spacingAndGlyphs">24h post-inj.</text>
<text x="116.90" y="670.22" font-family="Liberation Sans, Arial, sans-serif" font-size="37.48" font-weight="normal" fill="#000" stroke="#000" stroke-width="0.90" stroke-linejoin="round" textLength="16.44" lengthAdjust="spacingAndGlyphs">L</text>
<text x="209.90" y="670.22" font-family="Liberation Sans, Arial, sans-serif" font-size="37.48" font-weight="normal" fill="#000" stroke="#000" stroke-width="0.90" stroke-linejoin="round" textLength="21.35" lengthAdjust="spacingAndGlyphs">R</text>
<text x="308.87" y="670.22" font-family="Liberation Sans, Arial, sans-serif" font-size="37.48" font-weight="normal" fill="#000" stroke="#000" stroke-width="0.90" stroke-linejoin="round" textLength="16.54" lengthAdjust="spacingAndGlyphs">L</text>
<text x="401.34" y="670.22" font-family="Liberation Sans, Arial, sans-serif" font-size="37.48" font-weight="normal" fill="#000" stroke="#000" stroke-width="0.90" stroke-linejoin="round" textLength="21.58" lengthAdjust="spacingAndGlyphs">R</text>
<text x="499.75" y="670.22" font-family="Liberation Sans, Arial, sans-serif" font-size="37.48" font-weight="normal" fill="#000" stroke="#000" stroke-width="0.90" stroke-linejoin="round" textLength="16.86" lengthAdjust="spacingAndGlyphs">L</text>
<text x="593.79" y="670.22" font-family="Liberation Sans, Arial, sans-serif" font-size="37.48" font-weight="normal" fill="#000" stroke="#000" stroke-width="0.90" stroke-linejoin="round" textLength="21.85" lengthAdjust="spacingAndGlyphs">R</text>
<text x="692.44" y="670.22" font-family="Liberation Sans, Arial, sans-serif" font-size="37.48" font-weight="normal" fill="#000" stroke="#000" stroke-width="0.90" stroke-linejoin="round" textLength="17.55" lengthAdjust="spacingAndGlyphs">L</text>
<text x="776.08" y="670.22" font-family="Liberation Sans, Arial, sans-serif" font-size="37.48" font-weight="normal" fill="#000" stroke="#000" stroke-width="0.90" stroke-linejoin="round" textLength="21.02" lengthAdjust="spacingAndGlyphs">R</text>
<text x="883.94" y="670.22" font-family="Liberation Sans, Arial, sans-serif" font-size="37.48" font-weight="normal" fill="#000" stroke="#000" stroke-width="0.90" stroke-linejoin="round" textLength="16.91" lengthAdjust="spacingAndGlyphs">L</text>
<text x="977.85" y="670.22" font-family="Liberation Sans, Arial, sans-serif" font-size="37.48" font-weight="normal" fill="#000" stroke="#000" stroke-width="0.90" stroke-linejoin="round" textLength="22.14" lengthAdjust="spacingAndGlyphs">R</text>
<text x="1067.16" y="670.22" font-family="Liberation Sans, Arial, sans-serif" font-size="37.48" font-weight="normal" fill="#000" stroke="#000" stroke-width="0.90" stroke-linejoin="round" textLength="16.98" lengthAdjust="spacingAndGlyphs">L</text>
<text x="1159.66" y="670.22" font-family="Liberation Sans, Arial, sans-serif" font-size="37.48" font-weight="normal" fill="#000" stroke="#000" stroke-width="0.90" stroke-linejoin="round" textLength="23.01" lengthAdjust="spacingAndGlyphs">R</text>
<text x="1259.75" y="670.22" font-family="Liberation Sans, Arial, sans-serif" font-size="37.48" font-weight="normal" fill="#000" stroke="#000" stroke-width="0.90" stroke-linejoin="round" textLength="16.86" lengthAdjust="spacingAndGlyphs">L</text>
<text x="1351.93" y="670.22" font-family="Liberation Sans, Arial, sans-serif" font-size="37.48" font-weight="normal" fill="#000" stroke="#000" stroke-width="0.90" stroke-linejoin="round" textLength="21.72" lengthAdjust="spacingAndGlyphs">R</text>
<text x="1450.67" y="670.22" font-family="Liberation Sans, Arial, sans-serif" font-size="37.48" font-weight="normal" fill="#000" stroke="#000" stroke-width="0.90" stroke-linejoin="round" textLength="17.95" lengthAdjust="spacingAndGlyphs">L</text>
<text x="1544.89" y="670.22" font-family="Liberation Sans, Arial, sans-serif" font-size="37.48" font-weight="normal" fill="#000" stroke="#000" stroke-width="0.90" stroke-linejoin="round" textLength="21.98" lengthAdjust="spacingAndGlyphs">R</text>
<text x="134.49" y="749.50" font-family="Liberation Sans, Arial, sans-serif" font-size="36.95" font-weight="normal" fill="#000" stroke="#000" stroke-width="0.90" stroke-linejoin="round" textLength="44.07" lengthAdjust="spacingAndGlyphs">DS</text>
<text x="330.23" y="749.50" font-family="Liberation Sans, Arial, sans-serif" font-size="36.95" font-weight="normal" fill="#000" stroke="#000" stroke-width="0.90" stroke-linejoin="round" textLength="47.82" lengthAdjust="spacingAndGlyphs">GP</text>
<text x="510.93" y="749.50" font-family="Liberation Sans, Arial, sans-serif" font-size="36.95" font-weight="normal" fill="#000" stroke="#000" stroke-width="0.90" stroke-linejoin="round" textLength="68.90" lengthAdjust="spacingAndGlyphs">RNT</text>
<text x="712.86" y="749.50" font-family="Liberation Sans, Arial, sans-serif" font-size="36.95" font-weight="normal" fill="#000" stroke="#000" stroke-width="0.90" stroke-linejoin="round" textLength="67.63" lengthAdjust="spacingAndGlyphs">NAc</text>
<text x="895.04" y="749.50" font-family="Liberation Sans, Arial, sans-serif" font-size="36.95" font-weight="normal" fill="#000" stroke="#000" stroke-width="0.90" stroke-linejoin="round" textLength="62.94" lengthAdjust="spacingAndGlyphs">BLA</text>
<text x="1092.50" y="749.50" font-family="Liberation Sans, Arial, sans-serif" font-size="36.95" font-weight="normal" fill="#000" stroke="#000" stroke-width="0.90" stroke-linejoin="round" textLength="60.19" lengthAdjust="spacingAndGlyphs">SNr</text>
<text x="1277.91" y="749.50" font-family="Liberation Sans, Arial, sans-serif" font-size="36.95" font-weight="normal" fill="#000" stroke="#000" stroke-width="0.90" stroke-linejoin="round" textLength="62.51" lengthAdjust="spacingAndGlyphs">VTA</text>
<text x="1474.38" y="749.50" font-family="Liberation Sans, Arial, sans-serif" font-size="36.95" font-weight="normal" fill="#000" stroke="#000" stroke-width="0.90" stroke-linejoin="round" textLength="38.87" lengthAdjust="spacingAndGlyphs">LC</text>
<text x="42.89" y="217.98" font-family="Liberation Sans, Arial, sans-serif" font-size="24.12" font-weight="bold" fill="#4D4D4D" textLength="32.44" lengthAdjust="spacingAndGlyphs">0.3</text>
<text x="42.88" y="313.79" font-family="Liberation Sans, Arial, sans-serif" font-size="24.15" font-weight="bold" fill="#4D4D4D" textLength="32.60" lengthAdjust="spacingAndGlyphs">0.2</text>
<text x="42.84" y="410.43" font-family="Liberation Sans, Arial, sans-serif" font-size="22.95" font-weight="bold" fill="#4D4D4D" textLength="28.97" lengthAdjust="spacingAndGlyphs">0.1</text>
<text x="42.81" y="506.87" font-family="Liberation Sans, Arial, sans-serif" font-size="24.71" font-weight="bold" fill="#4D4D4D" textLength="32.63" lengthAdjust="spacingAndGlyphs">0.0</text>
<text x="35.83" y="603.18" font-family="Liberation Sans, Arial, sans-serif" font-size="22.95" font-weight="bold" fill="#4D4D4D" textLength="36.06" lengthAdjust="spacingAndGlyphs">-0.1</text>
<text x="93.22" y="214.44" font-family="Liberation Sans, Arial, sans-serif" font-size="52.62" font-weight="bold" fill="#000" textLength="20.49" lengthAdjust="spacingAndGlyphs">*</text>
<text x="115.51" y="214.30" font-family="Liberation Sans, Arial, sans-serif" font-size="52.41" font-weight="bold" fill="#000" textLength="20.34" lengthAdjust="spacingAndGlyphs">*</text>
<text x="136.81" y="214.40" font-family="Liberation Sans, Arial, sans-serif" font-size="52.56" font-weight="bold" fill="#000" textLength="20.53" lengthAdjust="spacingAndGlyphs">*</text>
<text x="310.69" y="218.30" font-family="Liberation Sans, Arial, sans-serif" font-size="52.51" font-weight="bold" fill="#000" textLength="20.36" lengthAdjust="spacingAndGlyphs">*</text>
<text x="331.82" y="218.36" font-family="Liberation Sans, Arial, sans-serif" font-size="52.59" font-weight="bold" fill="#000" textLength="20.46" lengthAdjust="spacingAndGlyphs">*</text>
<text x="377.11" y="214.65" font-family="Liberation Sans, Arial, sans-serif" font-size="53.04" font-weight="bold" fill="#000" textLength="20.45" lengthAdjust="spacingAndGlyphs">*</text>
<text x="398.80" y="214.85" font-family="Liberation Sans, Arial, sans-serif" font-size="53.32" font-weight="bold" fill="#000" textLength="20.50" lengthAdjust="spacingAndGlyphs">*</text>
<text x="420.74" y="215.11" font-family="Liberation Sans, Arial, sans-serif" font-size="52.31" font-weight="bold" fill="#000" textLength="20.34" lengthAdjust="spacingAndGlyphs">*</text>
<text x="442.61" y="214.54" font-family="Liberation Sans, Arial, sans-serif" font-size="52.89" font-weight="bold" fill="#000" textLength="20.33" lengthAdjust="spacingAndGlyphs">*</text>
<text x="504.00" y="214.01" font-family="Liberation Sans, Arial, sans-serif" font-size="52.08" font-weight="bold" fill="#000" textLength="19.91" lengthAdjust="spacingAndGlyphs">*</text>
<text x="525.56" y="214.69" font-family="Liberation Sans, Arial, sans-serif" font-size="53.08" font-weight="bold" fill="#000" textLength="20.47" lengthAdjust="spacingAndGlyphs">*</text>
<text x="609.83" y="214.69" font-family="Liberation Sans, Arial, sans-serif" font-size="53.07" font-weight="bold" fill="#000" textLength="20.53" lengthAdjust="spacingAndGlyphs">*</text>
<text x="793.87" y="206.86" font-family="Liberation Sans, Arial, sans-serif" font-size="51.96" font-weight="bold" fill="#000" textLength="20.41" lengthAdjust="spacingAndGlyphs">*</text>
<text x="1067.34" y="205.52" font-family="Liberation Sans, Arial, sans-serif" font-size="54.40" font-weight="bold" fill="#000" textLength="20.28" lengthAdjust="spacingAndGlyphs">*</text>
<text x="1089.34" y="205.52" font-family="Liberation Sans, Arial, sans-serif" font-size="54.40" font-weight="bold" fill="#000" textLength="20.28" lengthAdjust="spacingAndGlyphs">*</text>
<text x="1161.28" y="206.77" font-family="Liberation Sans, Arial, sans-serif" font-size="54.74" font-weight="bold" fill="#000" textLength="20.20" lengthAdjust="spacingAndGlyphs">*</text>
<text x="1182.31" y="206.39" font-family="Liberation Sans, Arial, sans-serif" font-size="54.19" font-weight="bold" fill="#000" textLength="20.36" lengthAdjust="spacingAndGlyphs">*</text>
<text x="1203.79" y="206.95" font-family="Liberation Sans, Arial, sans-serif" font-size="54.88" font-weight="bold" fill="#000" textLength="20.09" lengthAdjust="spacingAndGlyphs">*</text>
<text x="1225.57" y="206.05" font-family="Liberation Sans, Arial, sans-serif" font-size="53.72" font-weight="bold" fill="#000" textLength="20.24" lengthAdjust="spacingAndGlyphs">*</text>
<text x="1445.00" y="206.01" font-family="Liberation Sans, Arial, sans-serif" font-size="52.08" font-weight="bold" fill="#000" textLength="19.91" lengthAdjust="spacingAndGlyphs">*</text>
<text x="1467.27" y="205.60" font-family="Liberation Sans, Arial, sans-serif" font-size="52.91" font-weight="bold" fill="#000" textLength="20.62" lengthAdjust="spacingAndGlyphs">*</text>
<text x="1531.67" y="206.08" font-family="Liberation Sans, Arial, sans-serif" font-size="53.54" font-weight="bold" fill="#000" textLength="20.41" lengthAdjust="spacingAndGlyphs">*</text>
<text x="1553.67" y="206.08" font-family="Liberation Sans, Arial, sans-serif" font-size="53.54" font-weight="bold" fill="#000" textLength="20.41" lengthAdjust="spacingAndGlyphs">*</text>
<g clip-path="url(#yclip)"><text transform="translate(33.10,640.66) rotate(-90)" x="0" y="0" font-family="Liberation Sans, Arial, sans-serif" font-size="38.60" font-weight="normal" fill="#000" stroke="#000" stroke-width="1.00" stroke-linejoin="round" textLength="99.44" lengthAdjust="spacingAndGlyphs">Signal</text></g>
<g clip-path="url(#yclip)"><text transform="translate(33.10,530.09) rotate(-90)" x="0" y="0" font-family="Liberation Sans, Arial, sans-serif" font-size="38.60" font-weight="normal" fill="#000" stroke="#000" stroke-width="1.00" stroke-linejoin="round" textLength="99.49" lengthAdjust="spacingAndGlyphs">Ratios</text></g>
<g clip-path="url(#yclip)"><text transform="translate(33.10,417.98) rotate(-90)" x="0" y="0" font-family="Liberation Sans, Arial, sans-serif" font-size="38.60" font-weight="normal" fill="#000" stroke="#000" stroke-width="1.00" stroke-linejoin="round" textLength="88.55" lengthAdjust="spacingAndGlyphs">(time</text></g>
<g clip-path="url(#yclip)"><text transform="translate(33.10,317.88) rotate(-90)" x="0" y="0" font-family="Liberation Sans, Arial, sans-serif" font-size="38.60" font-weight="normal" fill="#000" stroke="#000" stroke-width="1.00" stroke-linejoin="round" textLength="32.41" lengthAdjust="spacingAndGlyphs">vs</text></g>
<g clip-path="url(#yclip)"><text transform="translate(33.10,273.94) rotate(-90)" x="0" y="0" font-family="Liberation Sans, Arial, sans-serif" font-size="38.60" font-weight="normal" fill="#000" stroke="#000" stroke-width="1.00" stroke-linejoin="round" textLength="41.57" lengthAdjust="spacingAndGlyphs">30</text></g>
<g clip-path="url(#yclip)"><text transform="translate(33.10,223.12) rotate(-90)" x="0" y="0" font-family="Liberation Sans, Arial, sans-serif" font-size="38.60" font-weight="normal" fill="#000" stroke="#000" stroke-width="1.00" stroke-linejoin="round" textLength="76.12" lengthAdjust="spacingAndGlyphs">min)</text></g>
</svg></body></html>
